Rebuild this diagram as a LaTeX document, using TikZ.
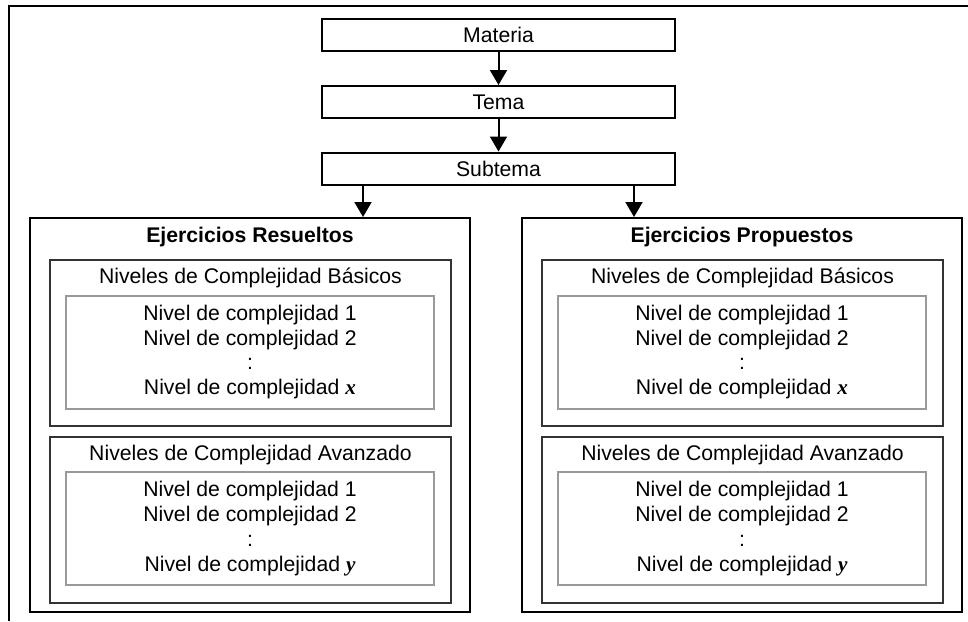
\documentclass[tikz,border=0pt]{standalone}
\usepackage{fontspec}
\setmainfont{Liberation Sans}
\newfontfamily\varfont{Liberation Serif}
\usetikzlibrary{arrows.meta}

\newcommand{\nivvar}[1]{{\varfont\bfseries\itshape #1}}

\begin{document}
\begin{tikzpicture}[
    x=0.5pt,
    y=-0.5pt,
    every node/.style={
      inner sep=0pt,
      align=center,
      font=\fontsize{10.6pt}{12.4pt}\selectfont
    },
    topbox/.style={
      draw,
      line width=1pt,
      minimum width=176.5pt,
      minimum height=16pt
    },
    groupbox/.style={
      draw,
      line width=1pt,
      minimum width=220pt,
      minimum height=197pt
    },
    levelbox/.style={
      draw=black!80,
      line width=1pt,
      minimum width=200.5pt,
      minimum height=83pt
    },
    listbox/.style={
      draw=black!40,
      line width=1pt,
      minimum width=184pt,
      minimum height=56.5pt
    },
    arr/.style={
      line width=1pt,
      -{Triangle[width=8.5pt,length=7.5pt]}
    }
  ]
    \useasboundingbox (0, 0) rectangle (968, 621);

    % outer frame, open at the bottom and right
    \draw[line width=0.75pt] (9, 621) -- (9, 6) -- (968, 6);

    \node[topbox] (materia) at (498.5, 35) {Materia};
    \node[topbox] (tema) at (498.5, 102) {Tema};
    \node[topbox] (subtema) at (498.5, 168.5) {Subtema};

    \node[groupbox] (res) at (250, 415) {};
    \node[groupbox] (prop) at (742, 415) {};
    \node[font=\fontsize{10.6pt}{12.4pt}\selectfont\bfseries] (res_title) at (250, 237) {Ejercicios Resueltos};
    \node[font=\fontsize{10.6pt}{12.4pt}\selectfont\bfseries] (prop_title) at (742, 237) {Ejercicios Propuestos};

    \node[levelbox] (res_bas) at (250.5, 343) {};
    \node (res_bas_title) at (250.5, 278) {Niveles de Complejidad Básicos};
    \node[listbox] (res_bas_list) at (250, 352) {Nivel de complejidad 1\\Nivel de complejidad 2\\:\\Nivel de complejidad \nivvar{x}};
    \node[levelbox] (res_ava) at (250.5, 520) {};
    \node (res_ava_title) at (250.5, 455) {Niveles de Complejidad Avanzado};
    \node[listbox] (res_ava_list) at (250, 528.5) {Nivel de complejidad 1\\Nivel de complejidad 2\\:\\Nivel de complejidad \nivvar{y}};

    \node[levelbox] (prop_bas) at (742.5, 343) {};
    \node (prop_bas_title) at (742.5, 278) {Niveles de Complejidad Básicos};
    \node[listbox] (prop_bas_list) at (742, 352) {Nivel de complejidad 1\\Nivel de complejidad 2\\:\\Nivel de complejidad \nivvar{x}};
    \node[levelbox] (prop_ava) at (742.5, 520) {};
    \node (prop_ava_title) at (742.5, 455) {Niveles de Complejidad Avanzado};
    \node[listbox] (prop_ava_list) at (742, 528.5) {Nivel de complejidad 1\\Nivel de complejidad 2\\:\\Nivel de complejidad \nivvar{y}};

    \coordinate (sub_l) at ([xshift=21pt]subtema.south west);
    \coordinate (sub_r) at ([xshift=-21pt]subtema.south east);

    \draw[arr] (materia) to (tema);
    \draw[arr] (tema) to (subtema);
    \draw[arr] (sub_l) to (sub_l |- res.north);
    \draw[arr] (sub_r) to (sub_r |- prop.north);

  \end{tikzpicture}
\end{document}
